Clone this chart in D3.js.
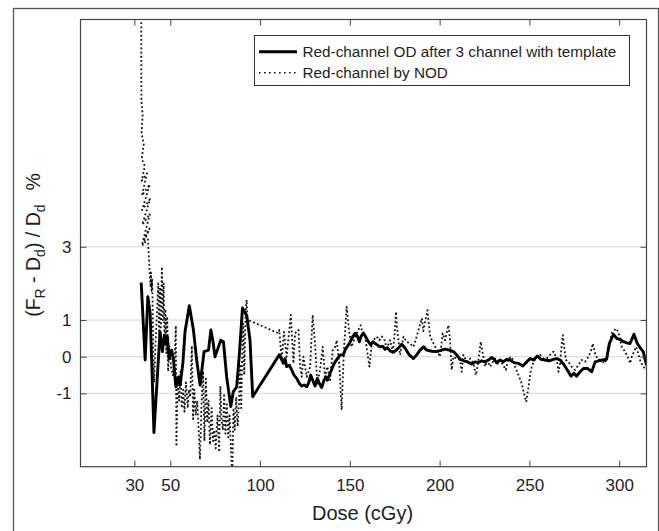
<!DOCTYPE html>
<html><head><meta charset="utf-8">
<script src="https://cdn.jsdelivr.net/npm/d3@7"></script>
<style>
body{margin:0;background:#fff}
svg{display:block}
text{font-family:"Liberation Sans",Arial,sans-serif;fill:#1e1e1e}
</style>
</head><body><svg id="c" width="659" height="531"></svg>
<script>
// ---- data ----
const xTicks = [30, 50, 100, 150, 200, 250, 300];
const yTicks = [-1, 0, 1, 3];
const yTickLabels = ["-1", "0", "1", "3"];
const seriesNames = ["Red-channel OD after 3 channel with template", "Red-channel by NOD"];
const xLabel = "Dose (cGy)";

// [dose, error %] — solid line
const solidSeries = [
[33.8,2.02],[36.0,-0.09],[37.5,1.64],[38.8,1.18],[40.9,-2.07],[44.3,0.68],[45.6,0.14],[46.7,0.59],[47.7,0.36],[48.4,0.55],
[49.3,-0.05],[50.8,0.18],[51.8,-0.09],[53.1,-0.82],[54.6,-0.55],[55.5,-0.77],[57.0,-0.18],[58.2,0.68],[60.6,1.39],[62.9,0.73],
[64.7,-0.09],[66.6,-0.77],[68.8,0.14],[71.3,0.18],[72.6,0.73],[73.7,0.45],[74.9,0.0],[76.2,0.18],[78.1,0.45],[79.6,0.41],
[81.4,-0.55],[83.7,-1.36],[85.1,-0.95],[87.0,-0.82],[88.5,0.09],[90.2,1.33],[92.6,1.12],[94.4,0.45],[95.9,-1.09],[110.7,0.05],
[112.0,-0.07],[113.0,-0.18],[113.9,-0.05],[114.8,-0.27],[116.3,-0.23],[117.6,-0.36],[118.9,-0.5],[120.4,-0.59],[121.9,-0.73],[123.2,-0.8],
[124.5,-0.77],[126.0,-0.82],[127.3,-0.68],[128.2,-0.5],[129.3,-0.64],[130.6,-0.8],[131.9,-0.59],[133.0,-0.73],[134.3,-0.84],[135.6,-0.64],
[136.7,-0.55],[137.5,-0.64],[139.0,-0.45],[140.5,-0.27],[141.8,-0.14],[143.1,-0.05],[144.6,0.05],[146.3,0.05],[147.8,0.23],[149.7,0.36],
[151.6,0.55],[152.9,0.64],[154.2,0.56],[155.3,0.41],[156.2,0.55],[157.5,0.65],[159.0,0.53],[160.3,0.41],[161.6,0.32],[162.8,0.41],
[164.1,0.36],[165.3,0.32],[166.8,0.27],[168.3,0.29],[169.6,0.2],[170.9,0.25],[172.4,0.16],[174.2,0.12],[176.1,0.19],[178.9,0.34],
[180.8,0.23],[183.1,0.05],[185.4,-0.05],[187.2,0.05],[189.1,0.18],[191.0,0.27],[192.8,0.18],[195.6,0.15],[198.4,0.14],[201.1,0.18],
[203.0,0.21],[205.4,0.18],[207.7,0.14],[209.5,0.05],[211.4,-0.07],[213.6,-0.11],[215.5,-0.14],[217.8,-0.2],[219.7,-0.14],[221.6,-0.16],
[223.4,-0.11],[225.3,-0.14],[227.2,-0.09],[229.0,-0.02],[230.3,-0.07],[231.8,-0.16],[233.7,-0.09],[235.4,-0.14],[237.3,-0.07],[239.2,-0.09],
[241.4,-0.16],[243.8,-0.18],[246.3,-0.25],[248.5,-0.14],[250.4,-0.05],[252.3,-0.09],[254.4,0.02],[256.3,-0.07],[258.7,-0.09],[261.1,-0.11],
[263.4,-0.07],[265.2,-0.05],[267.1,-0.09],[269.0,-0.2],[271.1,-0.36],[273.2,-0.53],[274.8,-0.45],[276.3,-0.53],[278.2,-0.41],[280.1,-0.32],
[282.3,-0.32],[284.7,-0.41],[286.6,-0.14],[288.4,-0.11],[290.8,-0.09],[293.0,-0.07],[294.5,0.36],[296.8,0.61],[298.6,0.5],[300.5,0.47],
[302.4,0.41],[304.2,0.38],[306.0,0.36],[308.2,0.61],[310.1,0.36],[311.9,0.23],[313.4,0.14],[315.2,-0.23]
];

// [dose, error %] — dotted line
const dottedSeries = [
[33.8,10.5],[33.9,7.0],[34.6,6.6],[34.0,6.1],[35.2,5.8],[34.1,5.4],[35.8,5.2],[34.1,4.8],[37.0,5.0],[34.2,4.4],
[38.6,4.7],[34.3,4.0],[38.7,4.3],[34.4,3.6],[38.7,3.9],[34.5,3.1],[38.5,3.5],[34.6,3.05],[37.6,3.2],[38.2,2.6],
[39.0,1.9],[39.2,2.3],[39.6,1.8],[39.9,2.1],[40.3,1.0],[40.7,-0.3],[41.0,-0.7],[41.8,0.4],[42.6,1.2],[43.3,2.0],
[43.8,0.6],[44.3,1.9],[44.8,0.8],[45.3,2.45],[45.8,1.0],[46.3,2.0],[46.8,0.3],[47.3,1.3],[47.8,0.1],[48.3,1.1],
[48.8,-0.4],[49.5,0.3],[50.5,-0.3],[51.5,-0.5],[52.4,-0.1],[53.1,0.85],[53.4,-2.45],[54.1,-0.6],[54.9,-1.2],[55.7,-0.4],
[56.4,-1.4],[57.2,-0.9],[57.9,-1.5],[58.7,-0.7],[59.7,-1.4],[60.4,-0.9],[61.1,-1.1],[62.0,0.3],[62.7,-1.7],[63.4,-0.9],
[64.2,-1.6],[65.0,-1.2],[66.0,-2.2],[66.5,-2.8],[67.4,-1.3],[68.3,-0.4],[69.0,-2.3],[69.8,-0.6],[70.6,-1.8],[71.3,-1.2],
[72.1,-2.4],[73.0,-1.4],[73.8,-2.3],[74.6,-2.0],[75.3,-2.5],[76.3,-1.6],[77.2,-2.6],[77.9,-0.8],[78.5,-1.7],[79.3,-2.0],
[80.0,-1.0],[80.7,-2.1],[81.5,-1.3],[82.3,-2.2],[83.0,-1.6],[83.7,-2.4],[84.5,-3.3],[85.2,-1.4],[85.9,-2.0],[86.7,-1.1],
[87.5,-1.9],[88.3,-1.2],[88.9,-0.2],[89.5,-1.4],[90.1,0.2],[90.6,0.9],[91.2,-0.5],[91.9,1.2],[92.5,1.55],[93.1,0.8],
[93.5,1.0],[110.3,0.64],[110.7,0.73],[112.0,-0.09],[113.3,0.68],[114.8,0.0],[117.1,1.14],[118.6,-0.18],[119.5,0.64],[121.4,0.73],
[122.3,-0.27],[123.2,-0.55],[124.1,0.0],[126.0,-0.55],[127.9,-0.27],[129.3,1.14],[130.6,0.36],[131.9,-0.73],[133.4,-0.36],[134.9,0.27],
[136.2,-0.55],[137.5,-0.27],[139.0,-0.64],[140.5,0.18],[141.8,0.27],[142.7,0.45],[144.2,-0.27],[145.4,-1.45],[146.7,0.18],[148.2,1.36],
[149.7,0.64],[151.0,0.27],[152.9,0.55],[154.7,0.73],[156.0,0.86],[157.2,0.64],[158.5,0.55],[159.8,0.09],[160.9,-0.27],[162.2,0.36],
[163.1,0.45],[164.9,0.55],[166.4,0.45],[167.7,0.55],[169.0,0.5],[170.5,0.23],[172.4,0.45],[173.9,0.14],[174.8,0.55],[175.7,1.23],
[176.2,0.82],[178.0,0.05],[179.9,0.55],[181.6,0.41],[183.5,0.36],[185.4,0.27],[187.2,0.55],[189.0,0.86],[190.1,1.05],[190.9,0.7],
[191.9,0.95],[193.2,1.27],[194.7,0.55],[196.6,0.36],[198.4,0.18],[200.2,0.0],[201.7,0.64],[203.0,0.45],[204.9,0.86],[205.8,0.45],
[206.7,-0.36],[207.7,0.0],[209.5,-0.05],[211.4,-0.09],[212.3,-0.41],[213.2,0.05],[215.1,-0.14],[217.0,-0.05],[218.8,-0.18],[220.2,-0.5],
[221.6,-0.09],[222.9,0.41],[224.0,0.09],[225.3,-0.27],[226.6,-0.09],[228.1,-0.27],[229.6,-0.14],[230.9,-0.05],[231.8,-0.23],[233.7,-0.09],
[235.4,-0.23],[236.9,-0.36],[238.2,-0.05],[240.1,0.0],[242.0,-0.27],[243.9,-0.5],[245.7,-0.73],[247.0,-1.0],[248.2,-1.23],[249.5,-0.82],
[250.8,-0.36],[252.3,-0.14],[254.0,0.0],[255.9,0.05],[257.8,-0.05],[259.6,-0.05],[261.5,0.05],[263.4,0.14],[265.2,-0.05],[266.2,-0.41],
[267.1,-0.18],[268.0,0.36],[268.6,0.59],[269.3,0.27],[270.4,-0.09],[271.7,-0.14],[273.5,-0.27],[275.4,-0.36],[277.3,-0.23],[279.1,-0.09],
[281.0,-0.14],[282.9,0.0],[284.2,0.14],[285.3,0.36],[286.6,0.09],[287.9,-0.05],[289.7,-0.09],[292.1,-0.18],[294.0,0.18],[295.8,0.64],
[298.2,0.77],[299.5,0.68],[301.4,0.27],[303.3,0.14],[305.1,-0.05],[306.1,-0.18],[307.0,0.0],[308.3,0.14],[309.4,0.27],[310.6,0.09],
[311.9,-0.14],[313.4,-0.27],[315.2,-0.36]
];

// ---- drawing ----
const svg = d3.select("#c");
const L = 80.5, R = 646.5, T = 19.5, B = 466.7;
const x = d3.scaleLinear().domain([0, 315.2]).range([L, R]);
const y = d3.scaleLinear().domain([-3, 9.2]).range([B, T]);

// outer frame
svg.append("rect").attr("x", 13.5).attr("y", 8.5).attr("width", 645).attr("height", 530)
  .attr("fill", "none").attr("stroke", "#555").attr("stroke-width", 1.3);

// grid lines
svg.append("g").selectAll("line").data(yTicks).join("line")
  .attr("x1", L).attr("x2", R).attr("y1", d => y(d)).attr("y2", d => y(d))
  .attr("stroke", "#d6d6d6").attr("stroke-width", 1);

// clip
svg.append("clipPath").attr("id", "clip").append("rect")
  .attr("x", L).attr("y", T).attr("width", R - L).attr("height", B - T);

const line = d3.line().x(d => x(d[0])).y(d => y(d[1]));
const plot = svg.append("g").attr("clip-path", "url(#clip)");
plot.append("path").datum(dottedSeries).attr("d", line)
  .attr("fill", "none").attr("stroke", "#111").attr("stroke-width", 1.8)
  .attr("stroke-dasharray", "1.8,2.4").attr("stroke-linejoin", "round");
plot.append("path").datum(solidSeries).attr("d", line)
  .attr("fill", "none").attr("stroke", "#000").attr("stroke-width", 2.9)
  .attr("stroke-linejoin", "round");

// axes
const axColor = "#444";
const gB = svg.append("g").attr("transform", `translate(0,${B})`)
  .call(d3.axisBottom(x).tickValues(xTicks).tickSize(-6).tickPadding(12).tickFormat(d => String(d)));
const gT = svg.append("g").attr("transform", `translate(0,${T})`)
  .call(d3.axisTop(x).tickValues(xTicks).tickSize(-6).tickFormat(""));
const gL = svg.append("g").attr("transform", `translate(${L},0)`)
  .call(d3.axisLeft(y).tickValues(yTicks).tickSize(-6).tickPadding(9)
    .tickFormat((d, i) => yTickLabels[i]));
const gR = svg.append("g").attr("transform", `translate(${R},0)`)
  .call(d3.axisRight(y).tickValues(yTicks).tickSize(-6).tickFormat(""));
[gB, gT, gL, gR].forEach(g => {
  g.select(".domain").remove();
  g.selectAll(".tick line").attr("stroke", axColor).attr("stroke-width", 1);
  g.selectAll(".tick text").attr("font-size", 17).attr("fill", "#1e1e1e")
    .attr("font-family", '"Liberation Sans",Arial,sans-serif');
});
svg.append("rect").attr("x", L).attr("y", T).attr("width", R - L).attr("height", B - T)
  .attr("fill", "none").attr("stroke", axColor).attr("stroke-width", 1.2);

// axis labels
svg.append("text").attr("x", (L + R) / 2 - 1).attr("y", 520).attr("text-anchor", "middle")
  .attr("font-size", 20).text(xLabel);

const yl = svg.append("text").attr("transform", "translate(40,245) rotate(-90)")
  .attr("text-anchor", "middle").attr("font-size", 19.5);
yl.append("tspan").text("(F");
yl.append("tspan").attr("font-size", 14).attr("dy", 5).text("R");
yl.append("tspan").attr("dy", -5).text(" - D");
yl.append("tspan").attr("font-size", 14).attr("dy", 5).text("d");
yl.append("tspan").attr("dy", -5).text(") / D");
yl.append("tspan").attr("font-size", 14).attr("dy", 5).text("d");
yl.append("tspan").attr("dy", -5).attr("dx", 14).text("%");

// legend
const lg = svg.append("g");
lg.append("rect").attr("x", 254.5).attr("y", 35.5).attr("width", 375).attr("height", 50)
  .attr("fill", "#fff").attr("stroke", "#333").attr("stroke-width", 1);
lg.append("line").attr("x1", 259).attr("x2", 297).attr("y1", 51.7).attr("y2", 51.7)
  .attr("stroke", "#000").attr("stroke-width", 2.9);
lg.append("line").attr("x1", 259).attr("x2", 297).attr("y1", 72.7).attr("y2", 72.7)
  .attr("stroke", "#111").attr("stroke-width", 1.6).attr("stroke-dasharray", "1.6,3.4");
lg.selectAll("text.lt").data(seriesNames).join("text").attr("class", "lt")
  .attr("x", 302.5).attr("y", (d, i) => 57 + i * 21).attr("font-size", 15.3).text(d => d);
</script>
</body></html>
